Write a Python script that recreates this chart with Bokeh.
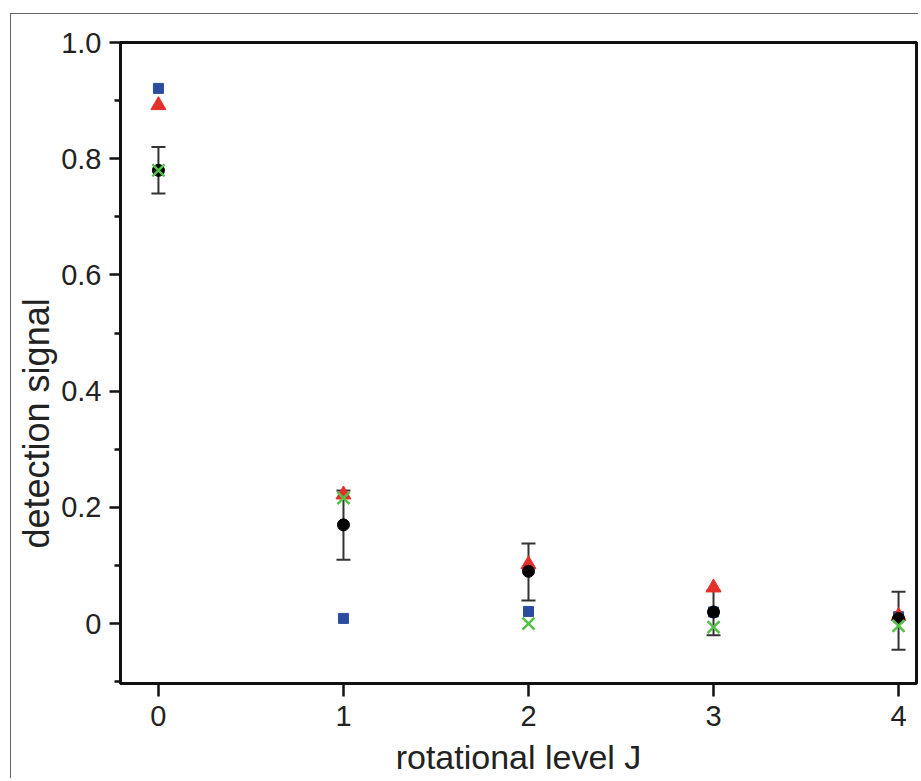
from bokeh.plotting import figure
from bokeh.models import FixedTicker, CustomJSTickFormatter, Whisker, TeeHead, ColumnDataSource, Range1d, Title
from bokeh.embed import file_html
from bokeh.resources import INLINE

# ---- data ----
J = [0, 1, 2, 3, 4]
mean_signal = [0.78, 0.17, 0.09, 0.02, 0.009]
err_lower = [0.74, 0.11, 0.04, -0.02, -0.045]
err_upper = [0.82, 0.229, 0.138, 0.057, 0.055]
blue_squares = [0.921, 0.009, 0.021, 0.02, 0.012]
red_triangles = [0.892, 0.222, 0.102, 0.062, 0.013]
green_crosses = [0.78, 0.216, 0.0, -0.006, -0.004]

y_major = [0, 0.2, 0.4, 0.6, 0.8, 1.0]
y_minor = [-0.1, 0.1, 0.3, 0.5, 0.7, 0.9]
x_ticks = [0, 1, 2, 3, 4]

x_title = "rotational level J"
y_title = "detection signal"

FONT = "Liberation Sans"
TXT = "#222222"

p = figure(output_backend="svg", toolbar_location=None,
           frame_width=796, frame_height=641,
           min_border_left=108, min_border_top=28, min_border_right=2, min_border_bottom=75,
           x_range=Range1d(-0.205, 4.097), y_range=Range1d(-0.103, 1.0))
p.styles = {"margin-left": "10px", "margin-top": "13px",
            "border-left": "1.5px solid #666666", "border-top": "1.5px solid #666666"}

p.grid.visible = False
p.outline_line_color = "#111111"
p.outline_line_width = 3
p.background_fill_color = "white"
p.border_fill_color = "white"

for ax in (p.xaxis[0], p.yaxis[0]):
    ax.axis_line_width = 3
    ax.axis_line_color = "#111111"
    ax.major_tick_line_width = 2.5
    ax.minor_tick_line_width = 2.5
    ax.major_tick_line_color = "#111111"
    ax.minor_tick_line_color = "#111111"
    ax.major_tick_in = 0
    ax.minor_tick_in = 0
    ax.major_label_text_font = FONT
    ax.major_label_text_font_size = "29px"
    ax.major_label_text_color = TXT
    ax.axis_label_text_font = FONT
    ax.axis_label_text_font_size = "34px"
    ax.axis_label_text_font_style = "normal"
    ax.axis_label_text_color = TXT

p.xaxis.ticker = FixedTicker(ticks=x_ticks)
p.xaxis.major_tick_out = 13
p.xaxis.minor_tick_out = 0
p.xaxis.major_label_standoff = 9
p.xaxis.axis_label = x_title
p.xaxis.axis_label_standoff = 9

p.yaxis.ticker = FixedTicker(ticks=y_major, minor_ticks=y_minor)
p.yaxis.formatter = CustomJSTickFormatter(code="return Math.abs(tick) < 1e-9 ? '0' : tick.toFixed(1);")
p.yaxis.major_tick_out = 11
p.yaxis.minor_tick_out = 6
p.yaxis.major_label_standoff = 8

# y-axis title as a left-side title: it sits lower than the frame centre in the original
p.add_layout(Title(text=y_title, align="left", offset=135, standoff=4,
                   text_font=FONT, text_font_size="36px", text_font_style="normal",
                   text_color=TXT), "left")

src = ColumnDataSource(dict(J=J, mean=mean_signal, lo=err_lower, hi=err_upper,
                            blue=blue_squares, red=red_triangles, green=green_crosses))

p.scatter("J", "blue", source=src, marker="square", size=10,
          fill_color="#2b4c9e", line_color="#2b4c9e")
p.scatter("J", "red", source=src, marker="triangle", size=15,
          fill_color="#e5302a", line_color="#e5302a")

w = Whisker(base="J", lower="lo", upper="hi", source=src,
            line_color="#333333", line_width=2,
            upper_head=TeeHead(size=14, line_color="#333333", line_width=2),
            lower_head=TeeHead(size=14, line_color="#333333", line_width=2))
p.add_layout(w)

p.scatter("J", "mean", source=src, marker="circle", size=12,
          fill_color="black", line_color="black")
p.scatter("J", "green", source=src, marker="x", size=17,
          line_color="#55c046", line_width=2.5)

open("out.html", "w").write(file_html(p, INLINE))
